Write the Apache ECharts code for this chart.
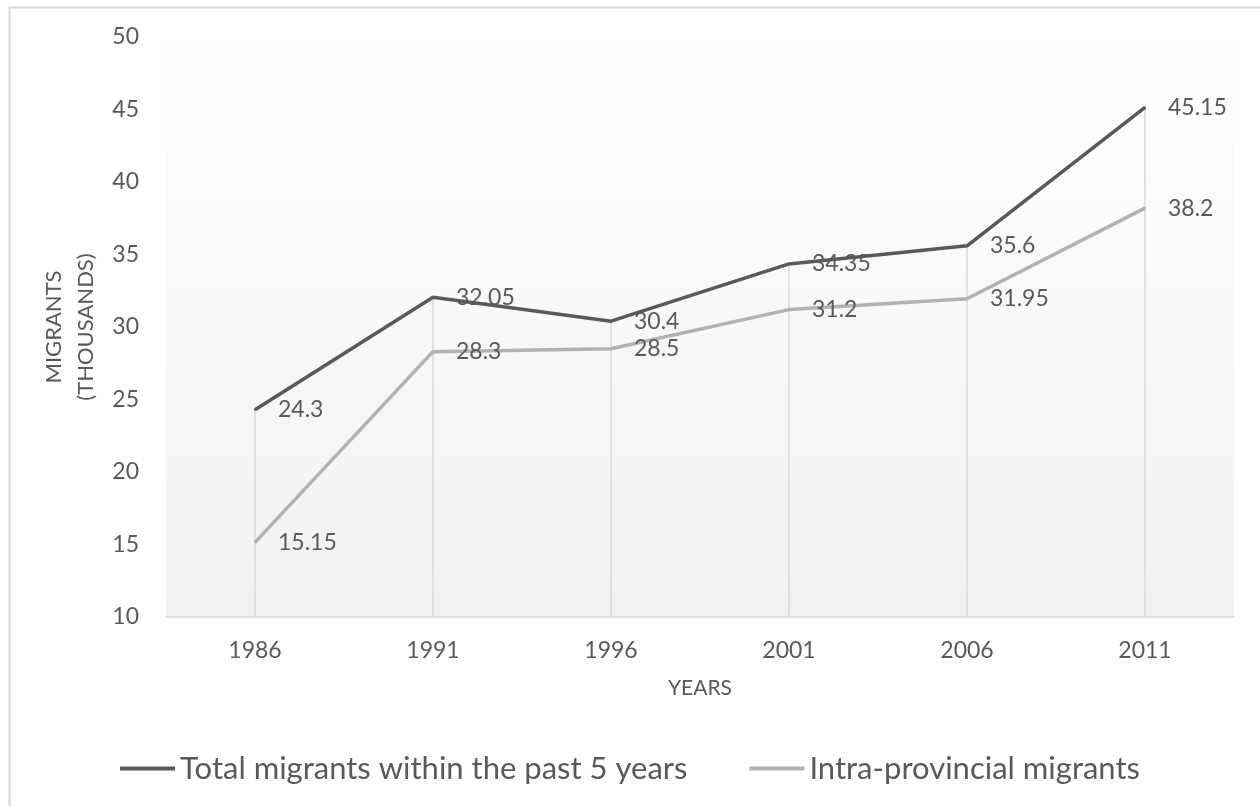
<!DOCTYPE html>
<html>
<head>
<meta charset="utf-8">
<script src="https://cdn.jsdelivr.net/npm/echarts@6/dist/echarts.min.js"></script>
<style>
  html, body { margin: 0; padding: 0; background: #ffffff; }
  #chart { width: 1260px; height: 806px; }
</style>
</head>
<body>
<div id="chart"></div>
<script>
// Census years on the category axis
const years = ['1986', '1991', '1996', '2001', '2006', '2011'];
// Migrants (thousands)
const totalMigrants = [24.3, 32.05, 30.4, 34.35, 35.6, 45.15];
const intraProvincial = [15.15, 28.3, 28.5, 31.2, 31.95, 38.2];
const seriesNames = ['Total migrants within the past 5 years', 'Intra-provincial migrants'];
const yMin = 10, yMax = 50, yStep = 5;

const textColor = '#595959';
const fontFamily = 'Lato, "Open Sans", sans-serif';

// Vertical drop lines from the upper series down to the category axis
const dropLines = years.map((y, i) => [
  { coord: [i, Math.max(totalMigrants[i], intraProvincial[i])] },
  { coord: [i, yMin] }
]);

const chart = echarts.init(document.getElementById('chart'), null, { renderer: 'canvas' });

const labelStyle = {
  show: true,
  position: 'right',
  distance: 22,
  color: textColor,
  fontFamily: fontFamily,
  fontSize: 23
};

chart.setOption({
  backgroundColor: '#ffffff',
  animation: false,
  textStyle: { fontFamily: fontFamily, color: textColor },
  graphic: [{
    type: 'rect',
    left: 7, top: 5,
    shape: { width: 1400, height: 1000 },
    style: { fill: 'none', stroke: '#d9d9d9', lineWidth: 2 },
    silent: true,
    z: -10
  }],
  grid: {
    left: 166, right: 26, top: 37, bottom: 189,
    show: true,
    borderWidth: 0,
    backgroundColor: new echarts.graphic.LinearGradient(0, 0, 0, 1, [
      { offset: 0, color: '#ffffff' },
      { offset: 1, color: '#f1f1f1' }
    ])
  },
  legend: {
    data: seriesNames,
    left: 'center',
    top: 748,
    icon: 'rect',
    itemWidth: 55,
    itemHeight: 4,
    itemGap: 62,
    textStyle: { color: textColor, fontFamily: fontFamily, fontSize: 31 }
  },
  xAxis: {
    type: 'category',
    data: years,
    boundaryGap: true,
    name: 'YEARS',
    nameLocation: 'middle',
    nameGap: 61,
    nameTextStyle: { color: textColor, fontFamily: fontFamily, fontSize: 21 },
    axisLine: { show: true, lineStyle: { color: '#d9d9d9', width: 1.5 } },
    axisTick: { show: false },
    axisLabel: { color: textColor, fontFamily: fontFamily, fontSize: 23, margin: 22 },
    splitLine: { show: false }
  },
  yAxis: {
    type: 'value',
    min: yMin,
    max: yMax,
    interval: yStep,
    name: 'MIGRANTS\n(THOUSANDS)',
    nameLocation: 'middle',
    nameRotate: 90,
    nameGap: 64,
    nameTextStyle: { color: textColor, fontFamily: fontFamily, fontSize: 22, lineHeight: 32 },
    axisLine: { show: false },
    axisTick: { show: false },
    axisLabel: { color: textColor, fontFamily: fontFamily, fontSize: 23, margin: 27 },
    splitLine: { show: false }
  },
  series: [
    {
      name: seriesNames[0],
      type: 'line',
      data: totalMigrants,
      symbol: 'circle',
      symbolSize: 2,
      lineStyle: { color: '#595959', width: 3.5 },
      itemStyle: { color: '#595959' },
      label: labelStyle,
      z: 3,
      markLine: {
        silent: true,
        symbol: ['none', 'none'],
        label: { show: false },
        lineStyle: { color: '#d9d9d9', width: 1.5, type: 'solid' },
        data: dropLines,
        z: 1
      }
    },
    {
      name: seriesNames[1],
      type: 'line',
      data: intraProvincial,
      symbol: 'circle',
      symbolSize: 2,
      lineStyle: { color: '#b2b2b2', width: 3.5 },
      itemStyle: { color: '#b2b2b2' },
      label: labelStyle,
      z: 3
    }
  ]
});
</script>
</body>
</html>
